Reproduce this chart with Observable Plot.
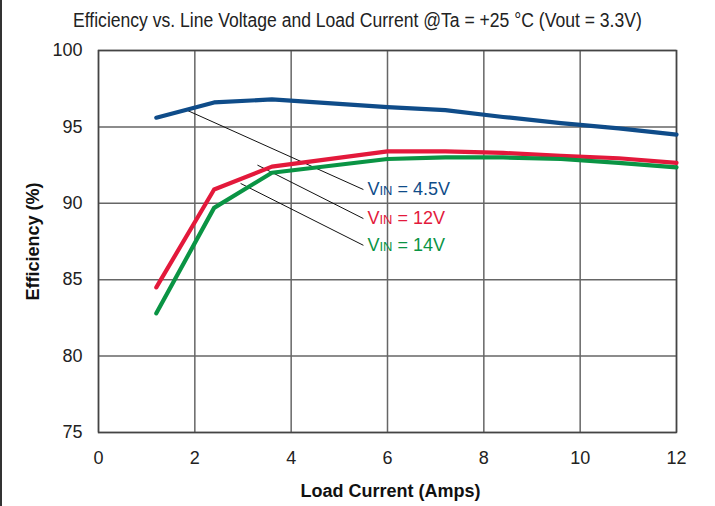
<!DOCTYPE html>
<html>
<head>
<meta charset="utf-8">
<script src="https://cdn.jsdelivr.net/npm/d3@7"></script>
<script src="https://cdn.jsdelivr.net/npm/@observablehq/plot@0.6"></script>
<style>
  html, body { margin: 0; padding: 0; background: #fff; }
  body { width: 715px; height: 506px; position: relative; overflow: hidden;
         font-family: "Liberation Sans", Arial, sans-serif; }
  #edge { position: absolute; left: 0; top: 0; width: 2px; height: 506px; background: #333; }
  #title { height: 38px; line-height: 40px; text-align: center; font-size: 20px; color: #222;
           transform: scaleX(0.878); transform-origin: 357px 0; white-space: nowrap; }
</style>
</head>
<body>
<div id="edge"></div>
<div id="title">Efficiency vs. Line Voltage and Load Current @Ta = +25 °C (Vout = 3.3V)</div>
<div id="chart"></div>
<script>
const current = [1.2, 2.4, 3.6, 6, 7.2, 8.4, 9.6, 10.8, 12];
const eff45 = [95.6, 96.6, 96.8, 96.3, 96.1, 95.65, 95.25, 94.9, 94.5];
const eff12 = [84.5, 90.9, 92.4, 93.4, 93.4, 93.3, 93.1, 92.95, 92.65];
const eff14 = [82.8, 89.7, 92.0, 92.9, 93.0, 93.0, 92.9, 92.65, 92.35];
const seriesNames = ["VIN = 4.5V", "VIN = 12V", "VIN = 14V"];
const seriesColors = ["#0f4c89", "#e3193b", "#0a9444"];
const xTicks = [0, 2, 4, 6, 8, 10, 12];
const yTicks = [75, 80, 85, 90, 95, 100];
// leader lines: from point on curve to label
const leaderFromX = [1.85, 3.3, 2.95];
const leaderFromY = [96.07, 92.5, 91.3];
const leaderToX = [5.5, 5.5, 5.5];
const leaderToY = [90.9, 89.0, 87.25];

const allSeries = [eff45, eff12, eff14];
const rows = [];
allSeries.forEach((s, i) => s.forEach((v, j) => rows.push({x: current[j], y: v, series: seriesNames[i]})));
const leaders = seriesNames.map((n, i) => ({x1: leaderFromX[i], y1: leaderFromY[i], x2: leaderToX[i], y2: leaderToY[i], series: n}));

const plot = Plot.plot({
  width: 715,
  height: 468,
  marginTop: 12,
  marginLeft: 98,
  marginRight: 39,
  marginBottom: 74,
  style: {fontFamily: "'Liberation Sans', Arial, sans-serif", fontSize: "18px", color: "#222", background: "#fff"},
  x: {domain: [0, 12]},
  y: {domain: [75, 100]},
  color: {domain: seriesNames, range: seriesColors},
  marks: [
    Plot.gridX(xTicks, {stroke: "#666", strokeOpacity: 1, strokeWidth: 1.5}),
    Plot.gridY(yTicks, {stroke: "#666", strokeOpacity: 1, strokeWidth: 1.5}),
    Plot.frame({stroke: "#444", strokeWidth: 1.5}),
    Plot.axisX(xTicks, {tickSize: 0, tickPadding: 19, fontSize: 18, label: null}),
    Plot.axisY(yTicks, {tickSize: 0, tickPadding: 16, fontSize: 18, label: null}),
    Plot.link(leaders, {x1: "x1", y1: "y1", x2: "x2", y2: "y2", stroke: "#111", strokeWidth: 1}),
    Plot.line(rows, {x: "x", y: "y", z: "series", stroke: "series", strokeWidth: 4.2, strokeLinejoin: "round", strokeLinecap: "round"}),
    Plot.text(leaders, {x: "x2", y: "y2", text: "series", fill: "series", textAnchor: "start", dx: 4, fontSize: 18, className: "vin-label"}),
    Plot.text(["Load Current (Amps)"], {frameAnchor: "bottom", lineAnchor: "middle", textAnchor: "middle", dy: 59, dx: 3, fontWeight: "bold", fontSize: 18, fill: "#111"}),
    Plot.text(["Efficiency (%)"], {frameAnchor: "left", lineAnchor: "middle", textAnchor: "middle", rotate: -90, dx: -65, fontWeight: "bold", fontSize: 18, fill: "#111"})
  ]
});
document.getElementById("chart").appendChild(plot);

// Render "VIN" with small-caps subscript "IN"
d3.select(plot).selectAll("g.vin-label text").each(function() {
  const t = this.textContent;
  const m = t.match(/^V(IN)(.*)$/);
  if (!m) return;
  const el = d3.select(this);
  el.text(null);
  el.append("tspan").text("V");
  el.append("tspan").attr("font-size", 13).text("IN");
  el.append("tspan").text(m[2]);
});
</script>
</body>
</html>
